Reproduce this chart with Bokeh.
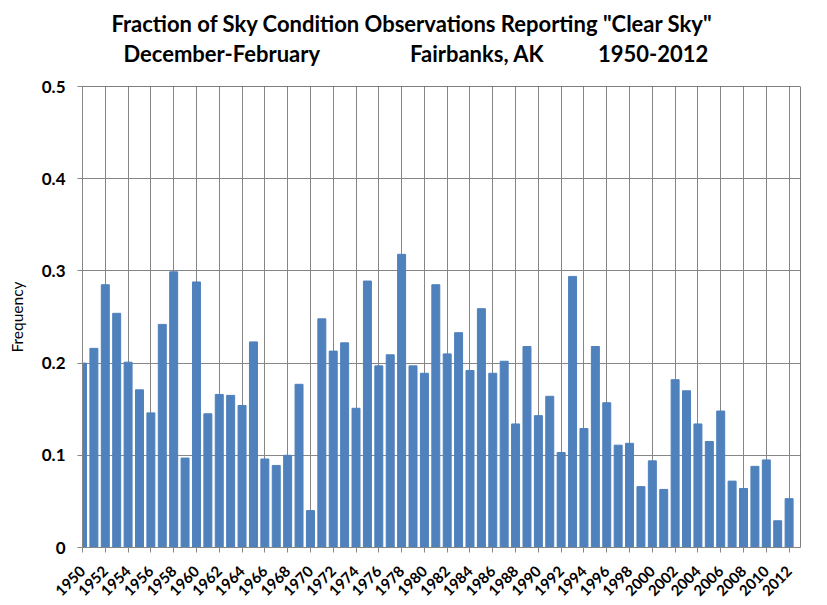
import math
from bokeh.plotting import figure
from bokeh.layouts import column
from bokeh.models import FixedTicker, Span, Range1d
from bokeh.core.properties import value
from bokeh.embed import file_html
from bokeh.resources import INLINE

# Dec-Feb clear sky fraction, Fairbanks AK
years = list(range(1950, 2013))
clear_sky = [0.200, 0.216, 0.285, 0.254, 0.201, 0.171, 0.146, 0.242, 0.299, 0.097,
             0.288, 0.145, 0.166, 0.165, 0.154, 0.223, 0.096, 0.089, 0.100, 0.177,
             0.040, 0.248, 0.213, 0.222, 0.151, 0.289, 0.197, 0.209, 0.318, 0.197,
             0.189, 0.285, 0.210, 0.233, 0.192, 0.259, 0.189, 0.202, 0.134, 0.218,
             0.143, 0.164, 0.103, 0.294, 0.129, 0.218, 0.157, 0.111, 0.113, 0.066,
             0.094, 0.063, 0.182, 0.170, 0.134, 0.115, 0.148, 0.072, 0.064, 0.088,
             0.095, 0.029, 0.053]
year_ticks = years[::2]
y_ticks = [0, 0.1, 0.2, 0.3, 0.4, 0.5]
y_tick_labels = ["0", "0.1", "0.2", "0.3", "0.4", "0.5"]

title1 = 'Fraction of Sky Condition Observations Reporting "Clear Sky"'
title2 = ["December-February", "Fairbanks, AK", "1950-2012"]

grid_col = "#868686"
font = "Lato"
xr = Range1d(1950, 2013)

# header strip with the two title lines (y measured in px from top)
head = figure(width=811, height=70, x_range=xr, y_range=Range1d(70, 0),
              x_axis_type=None, y_axis_type=None, output_backend="svg", toolbar_location=None,
              min_border_left=82, min_border_right=11, min_border_top=0, min_border_bottom=0)
head.outline_line_color = None
head.grid.visible = False
head.text(x=[1978.93], y=[23], text=[title1], text_align="center", text_baseline="alphabetic",
          text_font=value(font), text_font_style="bold", text_font_size="22px", text_color="black")
head.text(x=[1962.22, 1984.63, 2000.07], y=[53, 53, 53], text=title2, text_align="center",
          text_baseline="alphabetic", text_font=value(font), text_font_style="bold",
          text_font_size="22px", text_color="black")

p = figure(width=811, height=533, x_range=xr, y_range=Range1d(0, 0.5),
           output_backend="svg", toolbar_location=None,
           min_border_left=82, min_border_right=11, min_border_top=16, min_border_bottom=55)
p.outline_line_color = None

p.vbar(x=years, top=clear_sky, width=0.7, color="#4F81BD")

p.xaxis.ticker = FixedTicker(ticks=year_ticks)
p.xgrid.ticker = FixedTicker(ticks=year_ticks)
p.yaxis.ticker = FixedTicker(ticks=y_ticks)
p.ygrid.ticker = FixedTicker(ticks=y_ticks)
p.yaxis.major_label_overrides = dict(zip(y_ticks, y_tick_labels))

for g in (p.xgrid, p.ygrid):
    g.grid_line_color = grid_col
    g.grid_line_width = 1

for ax in (p.xaxis, p.yaxis):
    ax.axis_line_color = grid_col
    ax.major_tick_line_color = grid_col
    ax.major_tick_out = 5
    ax.major_tick_in = 0
    ax.minor_tick_line_color = None
    ax.major_label_text_font = font
    ax.major_label_text_font_style = "bold"
    ax.major_label_text_color = "black"

p.xaxis.major_label_orientation = math.pi / 4
p.xaxis.major_label_text_font_size = "15px"
p.xaxis.major_label_standoff = 16
p.yaxis.major_label_text_font_size = "17px"
p.yaxis.major_label_standoff = 12
p.yaxis.axis_label = "Frequency"
p.yaxis.axis_label_text_font = font
p.yaxis.axis_label_text_font_style = "normal"
p.yaxis.axis_label_text_font_size = "15.5px"
p.yaxis.axis_label_text_color = "black"
p.yaxis.axis_label_standoff = 13

p.add_layout(Span(location=0.5, dimension="width", line_color="black", line_width=1))
p.add_layout(Span(location=2013, dimension="height", line_color="black", line_width=1))

layout = column(head, p, spacing=0)
open("out.html", "w").write(file_html(layout, INLINE))
